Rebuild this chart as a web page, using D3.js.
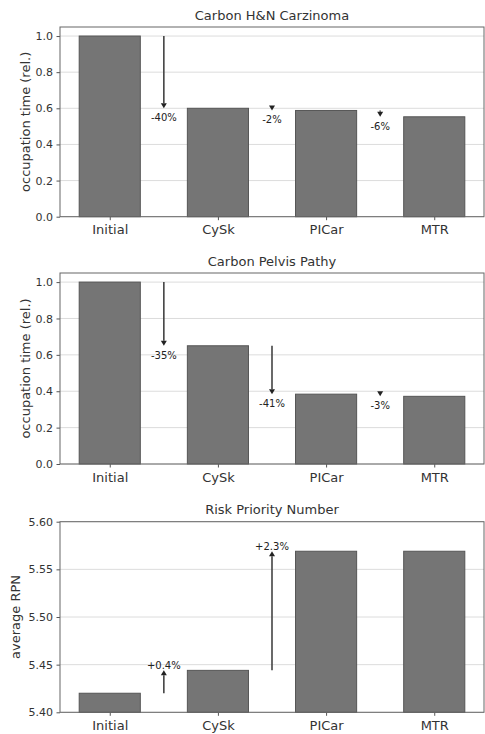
<!DOCTYPE html>
<html><head><meta charset="utf-8">
<script src="https://cdn.jsdelivr.net/npm/d3@7"></script>
<style>body{margin:0;background:#fff}svg{display:block;font-family:"DejaVu Sans",sans-serif}</style>
</head><body>
<script>
const categories = ["Initial","CySk","PICar","MTR"];
const hnValues = [1.0, 0.60, 0.588, 0.553];
const hnLabels = ["-40%","-2%","-6%"];
const pelvisValues = [1.0, 0.65, 0.384, 0.372];
const pelvisLabels = ["-35%","-41%","-3%"];
const rpnValues = [5.42, 5.444, 5.569, 5.569];
const rpnLabels = ["+0.4%","+2.3%", null];
const occTicks = [0.0,0.2,0.4,0.6,0.8,1.0];
const rpnTicks = [5.40,5.45,5.50,5.55,5.60];
const titles = ["Carbon H&N Carzinoma","Carbon Pelvis Pathy","Risk Priority Number"];

const W=485,H=734;
const svg=d3.select("body").append("svg").attr("width",W).attr("height",H);

const panels=[
 {title:titles[0],values:hnValues,labels:hnLabels,ticks:occTicks,domain:[0,1.05],top:27,bottom:216.7,ylabel:"occupation time (rel.)",ylx:25,fmt:d3.format(".1f")},
 {title:titles[1],values:pelvisValues,labels:pelvisLabels,ticks:occTicks,domain:[0,1.05],top:273,bottom:464,ylabel:"occupation time (rel.)",ylx:25,fmt:d3.format(".1f")},
 {title:titles[2],values:rpnValues,labels:rpnLabels,ticks:rpnTicks,domain:[5.40,5.60],top:521.7,bottom:712.3,ylabel:"average RPN",ylx:15,fmt:d3.format(".2f")}
];
const left=60,right=484,barW=0.565;
const x=d3.scaleLinear().domain([-0.46,3.46]).range([left,right]);

panels.forEach(p=>{
  const g=svg.append("g");
  const y=d3.scaleLinear().domain(p.domain).range([p.bottom,p.top]);
  g.selectAll(".grid").data(p.ticks).join("line")
   .attr("x1",left).attr("x2",right).attr("y1",d=>y(d)).attr("y2",d=>y(d))
   .attr("stroke","#dcdcdc").attr("stroke-width",1);
  g.selectAll(".bar").data(p.values).join("rect")
   .attr("x",(d,i)=>x(i-barW/2)).attr("width",x(barW)-x(0))
   .attr("y",d=>y(d)).attr("height",d=>p.bottom-y(d))
   .attr("fill","#757575").attr("stroke","#555").attr("stroke-width",1);
  const ya=d3.axisLeft(y).tickValues(p.ticks).tickFormat(p.fmt).tickSize(3.5).tickPadding(3.5);
  const yg=g.append("g").attr("transform",`translate(${left},0)`).call(ya);
  const xa=d3.axisBottom(x).tickValues([0,1,2,3]).tickFormat(i=>categories[i]).tickSize(3.5).tickPadding(5);
  const xg=g.append("g").attr("transform",`translate(0,${p.bottom})`).call(xa);
  [yg,xg].forEach(a=>{a.select(".domain").remove();a.selectAll("line").attr("stroke","#555");a.selectAll("text").attr("fill","#333").style("font-family","DejaVu Sans");});
  yg.selectAll("text").attr("font-size",11);
  xg.selectAll("text").attr("font-size",13);
  g.append("rect").attr("x",left).attr("y",p.top).attr("width",right-left).attr("height",p.bottom-p.top)
   .attr("fill","none").attr("stroke","#666").attr("stroke-width",1);
  g.append("text").attr("x",(left+right)/2).attr("y",p.top-7.5).attr("text-anchor","middle")
   .attr("font-size",13).attr("fill","#333").text(p.title);
  g.append("text").attr("transform",`translate(${p.ylx},${(p.top+p.bottom)/2}) rotate(-90)`)
   .attr("text-anchor","middle").attr("dy","0.35em").attr("font-size",13).attr("fill","#333").text(p.ylabel);
  p.labels.forEach((lab,i)=>{
    if(lab===null) return;
    const ax=x(i+0.5), y0=y(p.values[i]), y1=y(p.values[i+1]);
    const dir = y1>y0 ? 1 : -1;
    const hl=5, hw=3;
    const base=y1-dir*hl;
    if((base-y0)*dir>0){
      g.append("line").attr("x1",ax).attr("x2",ax).attr("y1",y0).attr("y2",base)
       .attr("stroke","#444").attr("stroke-width",1.6);
    }
    g.append("path").attr("d",`M${ax-hw},${base}L${ax+hw},${base}L${ax},${y1}Z`).attr("fill","#222");
    g.append("text").attr("x",ax).attr("y",dir>0?y1+13:y1-1).attr("text-anchor","middle")
     .attr("font-size",10).attr("fill","#222").text(lab);
  });
});
</script>
</body></html>
